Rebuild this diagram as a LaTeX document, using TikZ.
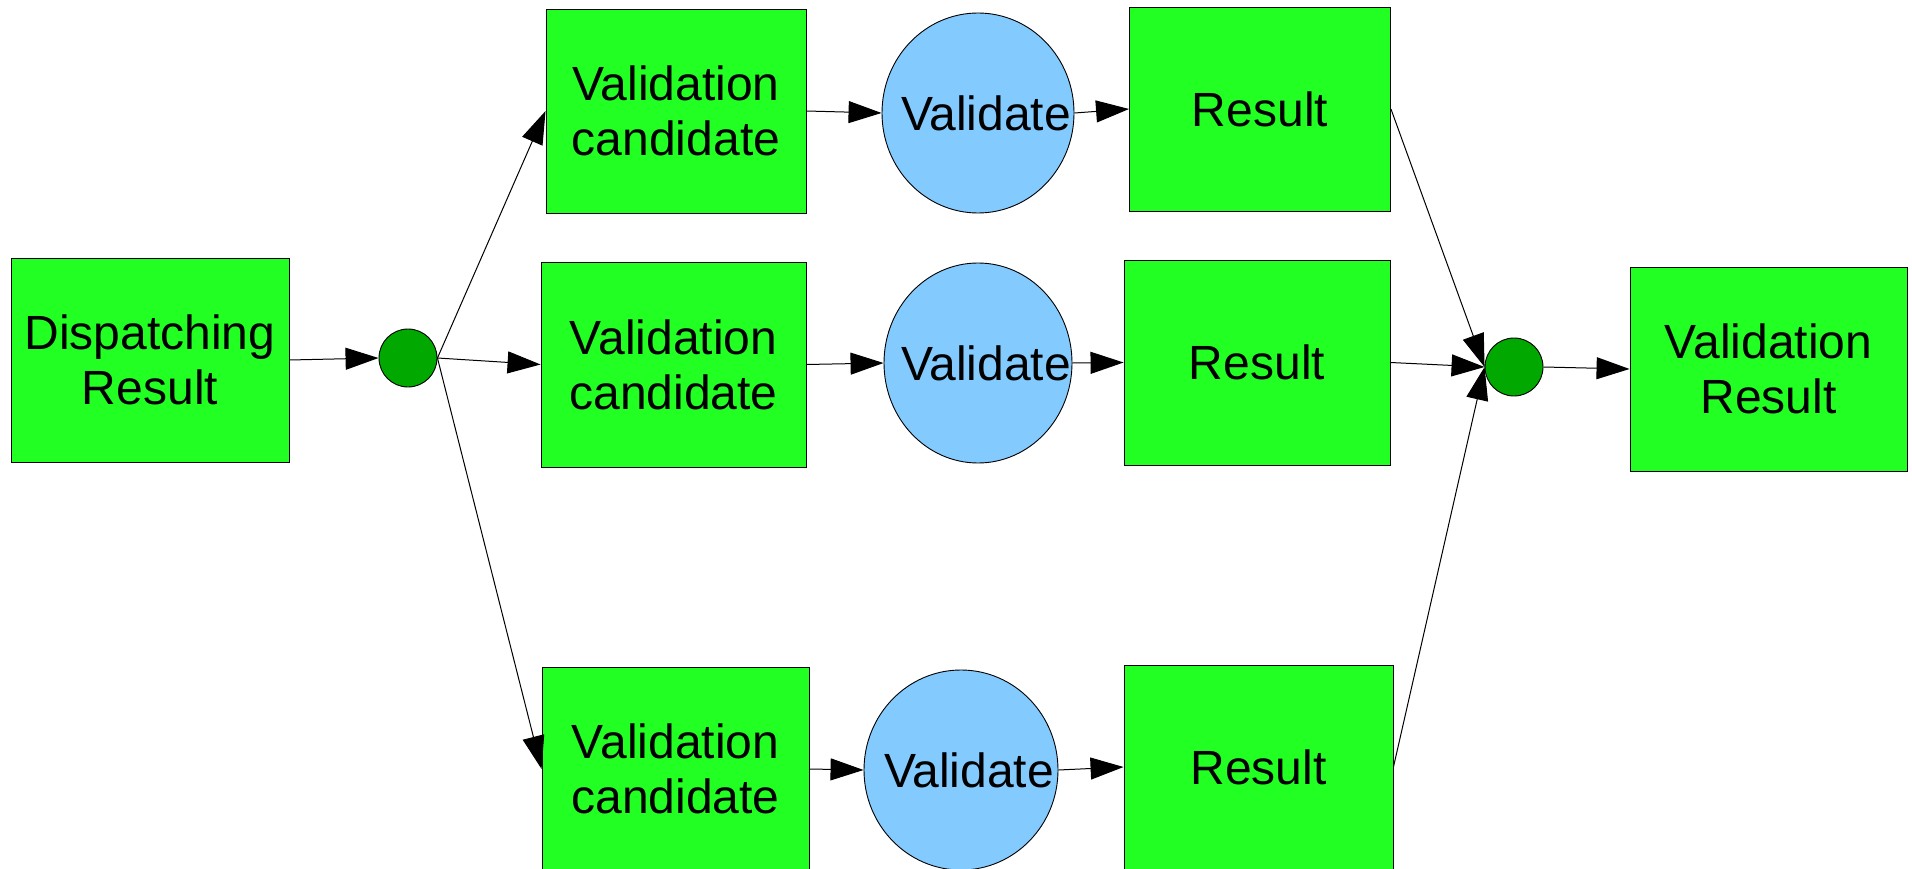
\documentclass[tikz,border=0pt]{standalone}
\usepackage{fontspec}
\setmainfont{Liberation Sans}
\usetikzlibrary{arrows.meta,shapes.geometric}
\definecolor{boxgreen}{HTML}{22FF22}
\definecolor{dotgreen}{HTML}{00A800}
\definecolor{ovalblue}{HTML}{83CAFF}
\begin{document}
\begin{tikzpicture}[x=1pt,y=-1pt,
  box/.style={rectangle,draw=black,line width=0.9pt,fill=boxgreen,inner sep=0pt,
    align=center,font=\fontsize{48}{55}\selectfont,minimum height=204pt},
  dot/.style={circle,draw=black,line width=0.9pt,fill=dotgreen,inner sep=0pt,minimum size=58pt},
  oval/.style={ellipse,draw=black,line width=0.9pt,fill=ovalblue,inner sep=0pt,minimum height=200pt},
  vlabel/.style={label={[xshift=8pt,font=\fontsize{48}{55}\selectfont]center:Validate}},
  flow/.style={draw=black,line width=1pt,-{Triangle[length=33pt,width=22pt]}}]
\useasboundingbox (0,0) rectangle (1912,869);

% source and fork
\node[box,minimum width=278pt] (disp) at (150,360) {Dispatching\\Result};
\node[dot] (split) at (408,358) {};

% upper branch
\node[box,minimum width=260pt] (vc1) at (676,111) {Validation\\candidate};
\node[oval,minimum width=192pt,vlabel] (val1) at (978,113) {};
\node[box,minimum width=261pt] (res1) at (1260,109) {Result};

% middle branch
\node[box,minimum width=265pt,minimum height=205pt] (vc2) at (673.5,364.5) {Validation\\candidate};
\node[oval,minimum width=188pt,vlabel] (val2) at (978,363) {};
\node[box,minimum width=266pt,minimum height=205pt] (res2) at (1257,362.5) {Result};

% lower branch
\node[box,minimum width=267pt] (vc3) at (675.5,769) {Validation\\candidate};
\node[oval,minimum width=194pt,vlabel] (val3) at (961,770) {};
\node[box,minimum width=269pt] (res3) at (1258.5,767) {Result};

% join and final result
\node[dot] (join) at (1514,367) {};
\node[box,minimum width=277pt] (vr) at (1768.5,369) {Validation\\Result};

% connectors
\draw[flow] (disp.east) -- (split.west);
\draw[flow] (split.east) -- (vc1.west);
\draw[flow] (split.east) -- (vc2.west);
\draw[flow] (split.east) -- (vc3.west);
\draw[flow] (vc1.east) -- (val1.west);
\draw[flow] (vc2.east) -- (val2.west);
\draw[flow] (vc3.east) -- (val3.west);
\draw[flow] (val1.east) -- (res1.west);
\draw[flow] (val2.east) -- (res2.west);
\draw[flow] (val3.east) -- (res3.west);
\draw[flow] (res1.east) -- (join.west);
\draw[flow] (res2.east) -- (join.west);
\draw[flow] (res3.east) -- (join.west);
\draw[flow] (join.east) -- (vr.west);
\end{tikzpicture}
\end{document}
